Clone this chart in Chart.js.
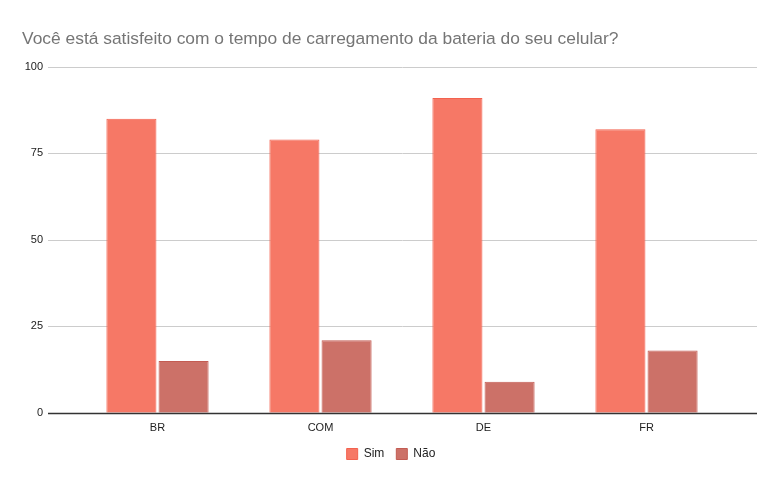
<!DOCTYPE html>
<html>
<head>
<meta charset="utf-8">
<script src="https://cdn.jsdelivr.net/npm/chart.js@4/dist/chart.umd.min.js"></script>
<style>
  html, body { margin: 0; padding: 0; background: #fff; }
  #wrap { width: 782px; height: 484px; }
</style>
</head>
<body>
<div id="wrap"><canvas id="chart-area"></canvas></div>
<script>
var categories = ['BR', 'COM', 'DE', 'FR'];
var simValues = [85, 79, 91, 82];
var naoValues = [15, 21, 9, 18];
var seriesNames = ['Sim', 'Não'];
var yTicks = [0, 25, 50, 75, 100];
var chartTitle = 'Você está satisfeito com o tempo de carregamento da bateria do seu celular?';

// google-style gridlines that run past the category area
var wideGrid = {
    id: 'wideGrid',
    beforeDatasetsDraw: function(chart) {
        var ctx = chart.ctx;
        var area = chart.chartArea;
        var y = chart.scales.y;
        ctx.save();
        yTicks.forEach(function(v) {
            var py = Math.round(y.getPixelForValue(v));
            if (v === 0) return;
            ctx.strokeStyle = '#cccccc';
            ctx.lineWidth = 1;
            ctx.beginPath();
            ctx.moveTo(area.left - 28, py + 0.5);
            ctx.lineTo(area.right + 29, py + 0.5);
            ctx.stroke();
        });
        ctx.restore();
    },
    afterDatasetsDraw: function(chart) {
        var ctx = chart.ctx;
        var area = chart.chartArea;
        var py = Math.round(chart.scales.y.getPixelForValue(0));
        ctx.save();
        ctx.strokeStyle = '#333333';
        ctx.lineWidth = 1.3;
        ctx.beginPath();
        ctx.moveTo(area.left - 28, py + 0.5);
        ctx.lineTo(area.right + 29, py + 0.5);
        ctx.stroke();
        ctx.restore();
    }
};

var config = {
    type: 'bar',
    data: {
        labels: categories,
        datasets: [{
            label: seriesNames[0],
            data: simValues,
            backgroundColor: '#f67866',
            borderColor: '#f3624f',
            borderWidth: 1
        }, {
            label: seriesNames[1],
            data: naoValues,
            backgroundColor: '#cc7168',
            borderColor: '#c35c53',
            borderWidth: 1
        }]
    },
    options: {
        responsive: true,
        maintainAspectRatio: false,
        animation: false,
        categoryPercentage: 0.64,
        barPercentage: 0.96,
        layout: { padding: { left: 22, right: 22, top: 0, bottom: 14 } },
        plugins: {
            title: {
                display: true,
                text: chartTitle,
                align: 'start',
                color: '#757575',
                font: { family: 'Liberation Sans', size: 17.4, weight: 'normal' },
                padding: { top: 29, bottom: 17 }
            },
            legend: {
                position: 'bottom',
                labels: {
                    boxWidth: 11,
                    boxHeight: 11,
                    color: '#222222',
                    font: { family: 'Liberation Sans', size: 12 },
                    padding: 12
                }
            },
            tooltip: { enabled: false }
        },
        scales: {
            x: {
                grid: { display: false },
                border: { display: false },
                ticks: {
                    color: '#222222',
                    font: { family: 'Liberation Sans', size: 11 },
                    padding: 1
                }
            },
            y: {
                min: 0,
                max: 100,
                afterBuildTicks: function(scale) {
                    scale.ticks = yTicks.map(function(v) { return { value: v }; });
                },
                afterFit: function(scale) { scale.width = 54; },
                grid: { display: false, drawTicks: false },
                border: { display: false },
                ticks: {
                    color: '#222222',
                    font: { family: 'Liberation Sans', size: 11 },
                    padding: 33
                }
            },
            // empty right axis, only holds the space right of the bars
            yRight: {
                position: 'right',
                min: 0,
                max: 100,
                afterFit: function(scale) { scale.width = 32; },
                grid: { display: false, drawTicks: false },
                border: { display: false },
                ticks: { display: false }
            }
        }
    },
    plugins: [wideGrid]
};

window.onload = function() {
    var ctx = document.getElementById('chart-area').getContext('2d');
    window.myBar = new Chart(ctx, config);
};
</script>
</body>
</html>
